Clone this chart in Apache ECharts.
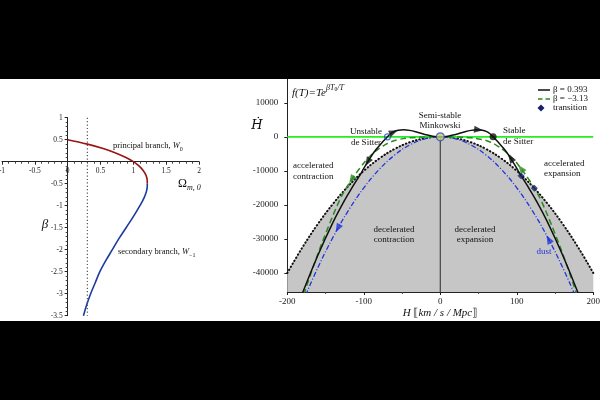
<!DOCTYPE html>
<html>
<head>
<meta charset="utf-8">
<script src="https://cdn.jsdelivr.net/npm/echarts@6/dist/echarts.min.js"></script>
<style>
  html, body { margin: 0; padding: 0; background: #000; }
  #main { width: 600px; height: 400px; }
</style>
</head>
<body>
<div id="main"></div>
<script>
// left panel: Omega_m0 against beta, the two Lambert W branches
var principalOmega = [0, 0.30, 0.54, 0.73, 0.88, 1.00, 1.09, 1.15, 1.19, 1.21, 1.213];
var principalBeta  = [0.5, 0.4, 0.3, 0.2, 0.1, 0, -0.1, -0.2, -0.3, -0.4, -0.5];
var secondaryOmega = [1.213, 1.21, 1.17, 1.10, 1.00, 0.89, 0.78, 0.68, 0.58, 0.49, 0.42, 0.35, 0.29, 0.24];
var secondaryBeta  = [-0.5, -0.6, -0.8, -1, -1.25, -1.5, -1.75, -2, -2.25, -2.5, -2.75, -3, -3.25, -3.5];
var omegaObs = 0.3;
var omegaTicks = [-1, 2, 0.5];
var betaTicks = [-3.5, 1, 0.5];

// right panel: Hdot against H
var boundH    = [-200, -180, -160, -140, -120, -100, -80, -60, -40, -20, 0, 20, 40, 60, 80, 100, 120, 140, 160, 180, 200];
var boundHdot = [-40000, -32400, -25600, -19600, -14400, -10000, -6400, -3600, -1600, -400, 0, -400, -1600, -3600, -6400, -10000, -14400, -19600, -25600, -32400, -40000];
var dustH    = [-176, -160, -140, -120, -100, -80, -60, -40, -20, 0, 20, 40, 60, 80, 100, 120, 140, 160, 176];
var dustHdot = [-46500, -38400, -29400, -21600, -15000, -9600, -5400, -2400, -600, 0, -600, -2400, -5400, -9600, -15000, -21600, -29400, -38400, -46500];
var blackH    = [-181, -160, -140, -125, -115, -105.5, -100, -92, -86, -80, -75, -69, -65, -60, -55, -48, -40, -30, -20, -10, 0,
                 10, 20, 30, 40, 48, 55, 60, 65, 69, 75, 80, 86, 92, 100, 105.5, 115, 125, 140, 160, 181];
var blackHdot = [-46400, -34800, -25000, -18600, -14800, -11400, -9300, -6300, -4300, -2700, -1400, 0, 900, 1600, 1950, 2100, 1900, 1350, 700, 200, 0,
                 200, 700, 1350, 1900, 2100, 1950, 1600, 900, 0, -1400, -2700, -4300, -6300, -9300, -11400, -14800, -18600, -25000, -34800, -46400];
var greenH    = [-178.5, -165, -150, -131.6, -123, -115, -105.5, -95, -85, -75, -65, -55, -40, -20, 0,
                 20, 40, 55, 65, 75, 85, 95, 105.5, 115, 123, 131.6, 150, 165, 178.5];
var greenHdot = [-46400, -37500, -28500, -18600, -15100, -12300, -9300, -6400, -4300, -2700, -1500, -800, -300, -50, 0,
                 -50, -300, -800, -1500, -2700, -4300, -6400, -9300, -12300, -15100, -18600, -28500, -37500, -46400];
var transitions = [[105.5, -11400], [123, -15100]];
var unstableDS = [-69, 0];
var stableDS = [69, 0];
var minkowski = [0, 0];
// arrow position and a point just ahead of it on the curve
var arrowBlack = [[-61, 1400, -57, 1800], [50, 2080, 56, 1920], [-95, -7400, -100, -9300], [92, -6300, 86, -4300]];
var arrowGreen = [[-116, -12600, -123, -15100], [105.5, -9300, 100, -7700]];
var arrowDust  = [[-134, -26900, -140, -29400], [141.6, -30100, 135, -27300]];
var hRange = [-200, 200, 100];
var hdotRange = [-45600, 17000];
var hdotTicks = [-40000, -30000, -20000, -10000, 0, 10000];

var BLACK = '#111', GREEN = '#2a8a22', DUST = '#2233dd', NAVY = '#17206e';

function zip(a, b) {
  return a.map(function (v, i) { return [v, b[i]]; });
}

var serif = 'Liberation Serif';
var txt = function (x, y, text, extra) {
  var s = { text: text, font: '9px "' + serif + '"', fill: '#111', textAlign: 'center', textVerticalAlign: 'middle', lineHeight: 10.5 };
  for (var k in extra) s[k] = extra[k];
  return { type: 'text', x: x, y: y, z: 100, style: s };
};

var myChart = echarts.init(document.getElementById('main'));

var leftTop = 117.7, leftH = 198, leftL = 2, leftW = 197;

var option = {
  backgroundColor: '#000',
  animation: false,
  textStyle: { fontFamily: serif },
  grid: [
    { left: leftL, top: leftTop, width: leftW, height: leftH, outerBoundsMode: 'none' },
    { left: 287.3, right: 6.7, top: 79, bottom: 108, outerBoundsMode: 'none' }
  ],
  xAxis: [
    {
      // moved up onto beta = 0
      gridIndex: 0, type: 'value', min: omegaTicks[0], max: omegaTicks[1], interval: omegaTicks[2],
      position: 'bottom', offset: leftH * (betaTicks[0] / (betaTicks[1] - betaTicks[0])),
      axisLine: { onZero: false, lineStyle: { color: '#222', width: 1 } },
      axisTick: { length: 3, lineStyle: { color: '#222' } },
      minorTick: { show: true, splitNumber: 5, length: 2, lineStyle: { color: '#444' } },
      splitLine: { show: false },
      axisLabel: { fontSize: 7.5, color: '#222', margin: 5, showMinLabel: true, showMaxLabel: true }
    },
    {
      gridIndex: 1, type: 'value', min: hRange[0], max: hRange[1], interval: hRange[2],
      axisLine: { onZero: false, lineStyle: { color: '#222', width: 1 } },
      axisTick: { length: 3, lineStyle: { color: '#222' } },
      minorTick: { show: true, splitNumber: 2, length: 2, lineStyle: { color: '#444' } },
      splitLine: { show: false },
      axisLabel: { fontSize: 9, color: '#222', margin: 5 }
    }
  ],
  yAxis: [
    {
      // moved right onto Omega = 0
      gridIndex: 0, type: 'value', min: betaTicks[0], max: betaTicks[1], interval: betaTicks[2],
      position: 'left', offset: -leftW * (-omegaTicks[0] / (omegaTicks[1] - omegaTicks[0])),
      axisLine: { onZero: false, lineStyle: { color: '#222', width: 1 } },
      axisTick: { length: 3, lineStyle: { color: '#222' } },
      minorTick: { show: true, splitNumber: 5, length: 2, lineStyle: { color: '#444' } },
      splitLine: { show: false },
      axisLabel: {
        fontSize: 7.5, color: '#222', margin: 5,
        formatter: function (v) { return v === 0 ? '' : v; }
      }
    },
    {
      gridIndex: 1, type: 'value', min: hdotRange[0], max: hdotRange[1],
      axisLine: { onZero: false, lineStyle: { color: '#222', width: 1 } },
      axisTick: { length: 3, customValues: hdotTicks, lineStyle: { color: '#222' } },
      splitLine: { show: false },
      axisLabel: {
        fontSize: 9, color: '#222', margin: 9, customValues: hdotTicks,
        formatter: function (v) { return String(v); }
      }
    }
  ],
  series: [
    {
      type: 'line', xAxisIndex: 0, yAxisIndex: 0, data: zip(principalOmega, principalBeta),
      symbol: 'none', smooth: 0.4,
      lineStyle: { color: '#9a1414', width: 1.6 }
    },
    {
      type: 'line', xAxisIndex: 0, yAxisIndex: 0, data: zip(secondaryOmega, secondaryBeta),
      symbol: 'none', smooth: 0.4,
      lineStyle: { color: '#1d3b9e', width: 1.6 }
    },
    {
      type: 'line', xAxisIndex: 0, yAxisIndex: 0, data: [[omegaObs, betaTicks[1]], [omegaObs, betaTicks[0]]],
      symbol: 'none', lineStyle: { color: '#555', width: 1.2, type: [1.2, 2.2] }
    },
    // decelerated region under Hdot = -H^2
    {
      type: 'line', xAxisIndex: 1, yAxisIndex: 1, data: zip(boundH, boundHdot), z: 1,
      symbol: 'none', smooth: 0.4,
      areaStyle: { color: '#c6c6c6', opacity: 1, origin: 'start' },
      lineStyle: { color: BLACK, width: 2, type: [0.5, 3], cap: 'round' }
    },
    {
      type: 'line', xAxisIndex: 1, yAxisIndex: 1, data: [[0, 0], [0, hdotRange[0]]], z: 2,
      symbol: 'none', lineStyle: { color: '#444', width: 1.2 }
    },
    {
      type: 'line', xAxisIndex: 1, yAxisIndex: 1, data: [[hRange[0], 0], [hRange[1], 0]], z: 2,
      symbol: 'none', lineStyle: { color: '#22ee22', width: 1.6 }
    },
    {
      type: 'line', xAxisIndex: 1, yAxisIndex: 1, data: zip(dustH, dustHdot), z: 3,
      symbol: 'none', smooth: 0.4,
      lineStyle: { color: DUST, width: 1.3, type: [5, 2, 1, 2] }
    },
    {
      type: 'line', xAxisIndex: 1, yAxisIndex: 1, data: zip(greenH, greenHdot), z: 4,
      symbol: 'none', smooth: 0.4,
      lineStyle: { color: GREEN, width: 1.5, type: [6, 3.5] }
    },
    {
      type: 'line', xAxisIndex: 1, yAxisIndex: 1, data: zip(blackH, blackHdot), z: 5,
      symbol: 'none', smooth: 0.4,
      lineStyle: { color: BLACK, width: 1.5 }
    },
    {
      type: 'scatter', xAxisIndex: 1, yAxisIndex: 1, data: transitions, z: 8,
      symbol: 'diamond', symbolSize: 7, itemStyle: { color: NAVY }
    },
    {
      type: 'scatter', xAxisIndex: 1, yAxisIndex: 1, data: [stableDS], z: 8,
      symbol: 'circle', symbolSize: 7, itemStyle: { color: BLACK }
    },
    {
      type: 'scatter', xAxisIndex: 1, yAxisIndex: 1, data: [unstableDS], z: 8,
      symbol: 'circle', symbolSize: 6, itemStyle: { color: 'rgba(255,255,255,0)', borderColor: '#2a48c8', borderWidth: 1.2 }
    },
    {
      type: 'scatter', xAxisIndex: 1, yAxisIndex: 1, data: [minkowski], z: 8,
      symbol: 'circle', symbolSize: 8, itemStyle: { color: '#c3cc72', borderColor: '#2a48c8', borderWidth: 1.2 }
    },
    { id: 'arrB', type: 'scatter', xAxisIndex: 1, yAxisIndex: 1, data: [], z: 9, symbol: 'triangle', symbolSize: [7, 9], itemStyle: { color: BLACK } },
    { id: 'arrG', type: 'scatter', xAxisIndex: 1, yAxisIndex: 1, data: [], z: 9, symbol: 'triangle', symbolSize: [7, 9], itemStyle: { color: GREEN } },
    { id: 'arrD', type: 'scatter', xAxisIndex: 1, yAxisIndex: 1, data: [], z: 9, symbol: 'triangle', symbolSize: [7, 9], itemStyle: { color: DUST } }
  ],
  graphic: [
    { type: 'rect', z: -10, shape: { x: 0, y: 79, width: 600, height: 242 }, style: { fill: '#fff' } },
    txt(113, 146, '{t|principal branch, }{w|W}{s|0}', {
      textAlign: 'left',
      rich: { t: { fontSize: 8.5, fontFamily: serif }, w: { fontSize: 8.5, fontStyle: 'italic', fontFamily: serif }, s: { fontSize: 6, fontFamily: serif, verticalAlign: 'bottom', lineHeight: 12 } }
    }),
    txt(118, 252, '{t|secondary branch, }{w|W}{s|−1}', {
      textAlign: 'left',
      rich: { t: { fontSize: 8.5, fontFamily: serif }, w: { fontSize: 8.5, fontStyle: 'italic', fontFamily: serif }, s: { fontSize: 6, fontFamily: serif, verticalAlign: 'bottom', lineHeight: 12 } }
    }),
    txt(45, 225, 'β', { font: 'italic 13px "' + serif + '"' }),
    txt(178, 184, '{o|Ω}{s|m, 0}', {
      textAlign: 'left',
      rich: { o: { fontSize: 12, fontFamily: serif }, s: { fontSize: 8, fontStyle: 'italic', fontFamily: serif, verticalAlign: 'bottom', lineHeight: 16 } }
    }),
    txt(257, 126, 'Ḣ', { font: 'italic 13px "DejaVu Serif"' }),
    txt(292, 93, '{f|f(T)=Te}', { textAlign: 'left', rich: { f: { fontSize: 11, fontStyle: 'italic', fontFamily: serif } } }),
    txt(326, 88, '{a|βT}{b|0}{a|/T}', {
      textAlign: 'left',
      rich: { a: { fontSize: 8, fontStyle: 'italic', fontFamily: serif, lineHeight: 10 }, b: { fontSize: 5.5, fontFamily: serif, verticalAlign: 'bottom', lineHeight: 10 } }
    }),
    txt(366, 137, 'Unstable\nde Sitter'),
    txt(440, 120.4, 'Semi-stable\nMinkowski'),
    txt(503, 136.2, 'Stable\nde Sitter', { textAlign: 'left' }),
    txt(293, 171, 'accelerated\ncontraction', { textAlign: 'left' }),
    txt(544, 168.7, 'accelerated\nexpansion', { textAlign: 'left' }),
    txt(394, 234.5, 'decelerated\ncontraction'),
    txt(475, 234.5, 'decelerated\nexpansion'),
    txt(544, 252, 'dust', { fill: DUST }),
    txt(440, 312.7, '{i|H }{b|⟦}{i|km / s / Mpc}{b|⟧}', {
      rich: { i: { fontSize: 11, fontStyle: 'italic', fontFamily: serif }, b: { fontSize: 11, fontFamily: 'DejaVu Serif' } }
    }),
    // legend
    { type: 'line', z: 100, shape: { x1: 538, y1: 90, x2: 550, y2: 90 }, style: { stroke: BLACK, lineWidth: 1.5 } },
    { type: 'line', z: 100, shape: { x1: 538, y1: 99, x2: 550, y2: 99 }, style: { stroke: GREEN, lineWidth: 1.5, lineDash: [4.5, 3] } },
    { type: 'polygon', z: 100, shape: { points: [[541, 104.5], [544.5, 108], [541, 111.5], [537.5, 108]] }, style: { fill: NAVY } },
    txt(553, 90, 'β = 0.393', { textAlign: 'left' }),
    txt(553, 99, 'β = −3.13', { textAlign: 'left' }),
    txt(553, 108, 'transition', { textAlign: 'left' })
  ]
};

myChart.setOption(option);

// turn each arrow toward the next point along its curve
function arrowData(list) {
  return list.map(function (a) {
    var p = myChart.convertToPixel({ gridIndex: 1 }, [a[0], a[1]]);
    var q = myChart.convertToPixel({ gridIndex: 1 }, [a[2], a[3]]);
    var ang = Math.atan2(-(q[0] - p[0]), -(q[1] - p[1])) * 180 / Math.PI;
    return { value: [a[0], a[1]], symbolRotate: ang };
  });
}

myChart.setOption({
  series: [
    { id: 'arrB', data: arrowData(arrowBlack) },
    { id: 'arrG', data: arrowData(arrowGreen) },
    { id: 'arrD', data: arrowData(arrowDust) }
  ]
});
</script>
</body>
</html>
